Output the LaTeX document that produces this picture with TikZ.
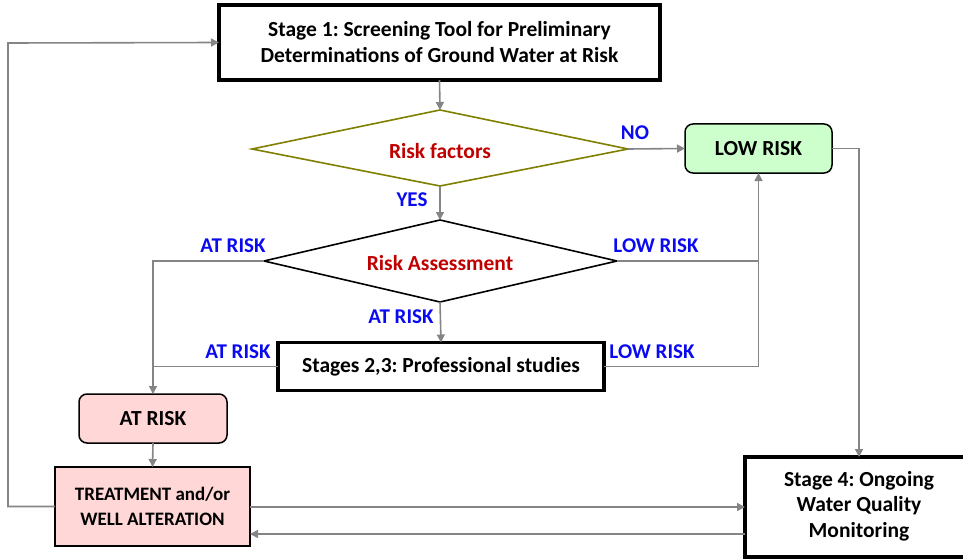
\documentclass[tikz,border=0pt]{standalone}
\usepackage{fontspec}
\setmainfont{Carlito}
\frenchspacing
\usetikzlibrary{arrows.meta,shapes.geometric}
\definecolor{olivec}{HTML}{808000}
\definecolor{darkred}{HTML}{C00000}
\definecolor{lblue}{HTML}{0A0AF0}
\definecolor{greyc}{HTML}{858585}
\definecolor{lgreen}{HTML}{CCFFCC}
\definecolor{lpink}{HTML}{FFD7D7}
\tikzset{
  x=1pt, y=-1pt,
  every node/.style={font=\bfseries\fontsize{21.5}{26}\selectfont, inner sep=0pt, outer sep=0pt},
  thickbox/.style={draw=black, line width=3.2pt, align=center},
  roundbox/.style={draw=black, line width=1.5pt, rounded corners=8pt, align=center},
  conn/.style={draw=greyc, line width=1.6pt},
  arr/.style={conn, -{Triangle[length=8pt,width=8pt]}},
  lab/.style={text=lblue, font=\bfseries\fontsize{21}{24}\selectfont},
  dlab/.style={text=darkred},
}
\begin{document}
\begin{tikzpicture}
\useasboundingbox (0,0) rectangle (963,559);
% boxes
\node[thickbox, minimum width=441pt, minimum height=75pt] (s1) at (439.5,42.5)
  {Stage 1: Screening Tool for Preliminary\\Determinations of Ground Water at Risk};
\draw[olivec, line width=1.6pt] (440,110) -- (628,149) -- (440,186) -- (252,149) -- cycle;
\coordinate (rfT) at (440,110); \coordinate (rfR) at (628,149); \coordinate (rfB) at (440,186);
\node[dlab] (rf) at (440,151) {Risk factors};
\draw[black, line width=1.6pt] (440,220) -- (617,261) -- (440,302) -- (264,261) -- cycle;
\coordinate (raT) at (440,220); \coordinate (raR) at (617,261); \coordinate (raB) at (440,302); \coordinate (raL) at (264,261);
\node[dlab] (ra) at (440,263) {Risk Assessment};
\node[roundbox, fill=lgreen, minimum width=147pt, minimum height=49pt] (low) at (758.5,148.5) {LOW RISK};
\node[thickbox, minimum width=326pt, minimum height=48pt] (s23) at (441,366.5) {Stages 2,3: Professional studies};
\node[roundbox, fill=lpink, minimum width=148pt, minimum height=49pt] (atr) at (153,418.5) {AT RISK};
\node[draw=black, line width=1.5pt, fill=lpink, align=center, minimum width=195pt, minimum height=79pt,
  font=\bfseries\fontsize{19}{25}\selectfont] (tr) at (152.5,506.5) {TREATMENT and/or\\WELL ALTERATION};
\node[thickbox, minimum width=230pt, minimum height=100pt, anchor=north west] (s4) at (745,457) {};
\coordinate (s4top) at (859,457);
\node[align=center, font=\bfseries\fontsize{21.5}{25.5}\selectfont] (s4t) at (859,506)
  {Stage 4: Ongoing\\Water Quality\\Monitoring};
% connectors
\draw[arr] (s1.south) -- (rfT);
\draw[arr] (rfR) -- (low.west);
\draw[arr] (rfB) -- (raT);
\draw[arr] (raB) -- (s23.north);
\draw[arr] (raL) -| (atr.north);
\draw[conn] (s23.west) -- (153,366.5);
\draw[arr] (raR) -| (low.south);
\draw[conn] (s23.east) -| (758.5,261);
\draw[arr] (low.east) -| (s4top);
\draw[arr] (atr.south) -- (tr.north);
\draw[arr] (tr.west) -| (8,43) -- (s1.west);
\draw[arr] (tr.east |- 0,507) -- (s4.west |- 0,507);
\draw[arr] (s4.west |- 0,534) -- (tr.east |- 0,534);
% labels
\node[lab] (lno) at (635,133) {NO};
\node[lab] (lyes) at (412,200) {YES};
\node[lab] (lat1) at (233,246) {AT RISK};
\node[lab] (llow1) at (656,246) {LOW RISK};
\node[lab] (lat2) at (401,317) {AT RISK};
\node[lab] (lat3) at (238,352) {AT RISK};
\node[lab] (llow2) at (652,352) {LOW RISK};
\end{tikzpicture}
\end{document}
